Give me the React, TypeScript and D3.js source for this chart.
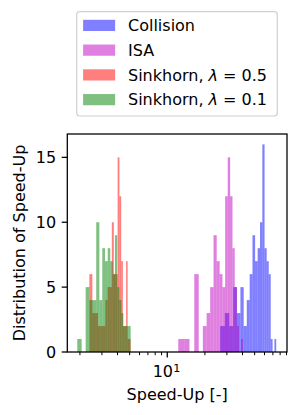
import * as d3 from "d3";

// histogram bins: [first edge, last edge] and the counts of the 20 equal bins
const collisionRange = [26.5, 74.4];
const collisionCounts = [2, 3, 2, 5, 3, 5, 2, 4, 6, 9, 7, 8, 10, 16, 8, 7, 6, 1, 0, 1];
const isaRange = [12.25, 40.25];
const isaCounts = [1, 1, 0, 6, 0, 2, 3, 5, 9, 7, 6, 5, 12, 15, 12, 8, 5, 2, 0, 1];
const sink05Range = [2.38, 5.09];
const sink05Counts = [6, 3, 3, 2, 2, 2, 4, 5, 5, 10, 6, 6, 15, 12, 7, 2, 2, 7, 1, 1];
const sink01Range = [1.905, 5.09];
const sink01Counts = [1, 0, 5, 4, 4, 10, 4, 8, 7, 8, 7, 6, 9, 5, 4, 3, 2, 2, 2, 2];

const labels = ["Collision", "ISA", "Sinkhorn, λ = 0.5", "Sinkhorn, λ = 0.1"];
const colors = ["#0000ff", "#bf00bf", "#ff0000", "#008000"];

const yTicks = [0, 5, 10, 15];
const xMajorTicks = [10];
const xMinorTicks = [2, 3, 4, 5, 6, 7, 8, 9, 20, 30, 40, 50, 60, 70, 80, 90];

const series = [
  { range: collisionRange, counts: collisionCounts },
  { range: isaRange, counts: isaCounts },
  { range: sink05Range, counts: sink05Counts },
  { range: sink01Range, counts: sink01Counts },
];

const W = 298;
const H = 415;
const plot = { left: 67.3, right: 287, top: 134, bottom: 352 };
const font = "DejaVu Sans, sans-serif";

export default function App() {
  const x = d3
    .scaleLog()
    .domain([Math.pow(10, 0.2), Math.pow(10, 1.958)])
    .range([plot.left, plot.right]);
  const y = d3.scaleLinear().domain([0, 16.8]).range([plot.bottom, plot.top]);

  const bars = series.map((s) => {
    const n = s.counts.length;
    const step = (s.range[1] - s.range[0]) / n;
    return s.counts.map((c, i) => ({
      x0: s.range[0] + i * step,
      x1: s.range[0] + (i + 1) * step,
      c,
    }));
  });

  const legendTop = 11.7;
  const rowY = (i: number) => 25.4 + i * 24.75;

  return (
    <svg
      width={W}
      height={H}
      style={{ position: "absolute", left: 0, top: 0, background: "#fff" }}
      fontFamily={font}
    >
      {/* histograms */}
      {bars.map((bs, si) => (
        <g key={si} fill={colors[si]} fillOpacity={0.5}>
          {bs
            .filter((b) => b.c > 0)
            .map((b, i) => (
              <rect
                key={i}
                x={x(b.x0)}
                width={x(b.x1) - x(b.x0)}
                y={y(b.c)}
                height={y(0) - y(b.c)}
              />
            ))}
        </g>
      ))}

      {/* frame */}
      <rect
        x={plot.left}
        y={plot.top}
        width={plot.right - plot.left}
        height={plot.bottom - plot.top}
        fill="none"
        stroke="#000"
        strokeWidth={1.28}
      />

      {/* y axis */}
      {yTicks.map((t) => (
        <g key={t}>
          <line x1={plot.left - 5.6} x2={plot.left} y1={y(t)} y2={y(t)} stroke="#000" strokeWidth={1.28} />
          <text x={plot.left - 11.2} y={y(t)} dy="0.36em" textAnchor="end" fontSize={16}>
            {t}
          </text>
        </g>
      ))}

      {/* x axis */}
      {xMinorTicks.map((t) => (
        <line key={t} x1={x(t)} x2={x(t)} y1={plot.bottom} y2={plot.bottom + 3.2} stroke="#000" strokeWidth={1} />
      ))}
      {xMajorTicks.map((t) => (
        <g key={t}>
          <line x1={x(t)} x2={x(t)} y1={plot.bottom} y2={plot.bottom + 5.6} stroke="#000" strokeWidth={1.28} />
          <text x={x(t) - 14.6} y={376.7} fontSize={16}>
            10
          </text>
          <text x={x(t) + 6} y={372} fontSize={11.2}>
            {Math.log10(t)}
          </text>
        </g>
      ))}

      <text x={(plot.left + plot.right) / 2} y={400} textAnchor="middle" fontSize={16}>
        Speed-Up [-]
      </text>
      <text
        transform={`translate(25.3,${(plot.top + plot.bottom) / 2}) rotate(-90)`}
        textAnchor="middle"
        fontSize={16}
      >
        Distribution of Speed-Up
      </text>

      {/* legend */}
      <rect
        x={76.7}
        y={legendTop}
        width={200.6}
        height={104.3}
        rx={3}
        fill="#fff"
        stroke="#d0d0d0"
        strokeWidth={1.2}
      />
      {labels.map((l, i) => {
        const parts = l.split("λ");
        return (
          <g key={l}>
            <rect x={83.1} y={rowY(i) - 5.6} width={32} height={11.2} fill={colors[i]} fillOpacity={0.5} />
            <text x={128} y={rowY(i) + 5.8} fontSize={16}>
              {parts[0]}
              {parts.length > 1 && (
                <>
                  <tspan fontStyle="italic">λ</tspan>
                  {parts[1]}
                </>
              )}
            </text>
          </g>
        );
      })}
    </svg>
  );
}
